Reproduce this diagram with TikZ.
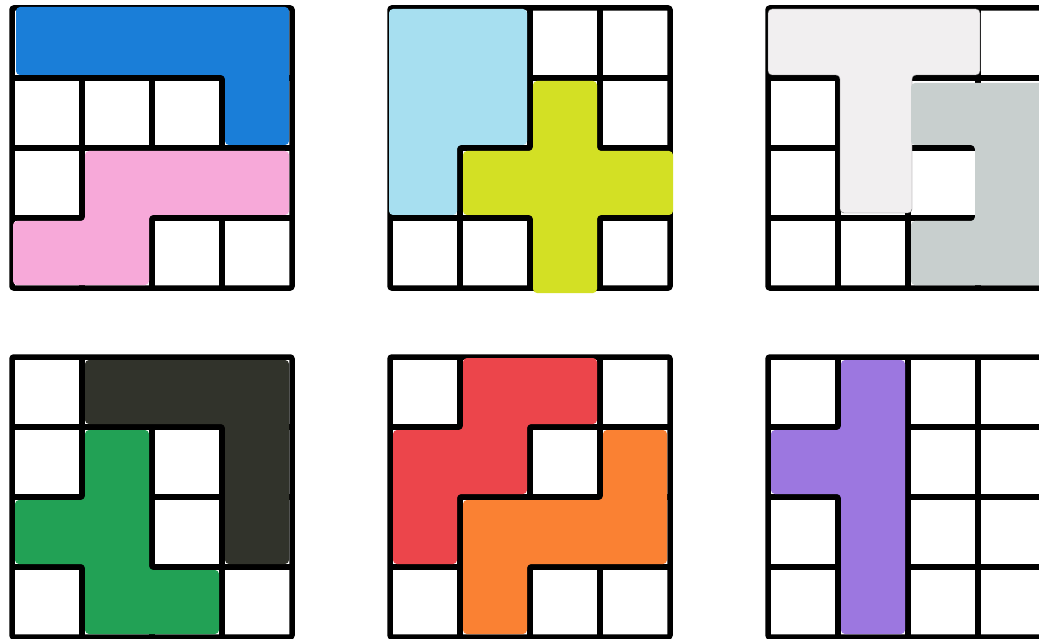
\documentclass[tikz,border=0pt]{standalone}
\definecolor{pblue}{HTML}{1A7ED8}
\definecolor{ppink}{HTML}{F7A9D9}
\definecolor{plblue}{HTML}{A7DFF0}
\definecolor{plime}{HTML}{D3E024}
\definecolor{pwhite}{HTML}{F1EFF0}
\definecolor{pgray}{HTML}{C8CFCE}
\definecolor{pdark}{HTML}{31332B}
\definecolor{pgreen}{HTML}{22A155}
\definecolor{pred}{HTML}{EC454B}
\definecolor{porange}{HTML}{FA8133}
\definecolor{ppurple}{HTML}{9C77E0}
\tikzset{
  gridline/.style={line width=5.5pt, draw=black},
  piece/.style={rounded corners=4pt},
}
\newcommand\myboard{%
  \foreach \k in {70,140,210}{%
    \draw[gridline] (\k,0) -- (\k,280);
    \draw[gridline] (0,\k) -- (280,\k);
  }%
  \draw[gridline, rounded corners=2pt] (0,0) rectangle (280,280);
}
\begin{document}
\begin{tikzpicture}[x=1pt,y=-1pt]
\useasboundingbox (0,0) rectangle (1039,639);
\clip (0,0) rectangle (1039,639);
\fill[white] (0,0) rectangle (1039,639);
% Board 1
\begin{scope}[shift={(12,8)}]
  \myboard
  \fill[pblue, piece] (4,-1) -- (277,-1) -- (277,137) -- (213,137) -- (213,67) -- (4,67) -- cycle;
  \fill[ppink, piece] (73,143) -- (277,143) -- (277,207) -- (137,207) -- (137,277) -- (1,277) -- (1,213) -- (73,213) -- cycle;
\end{scope}
% Board 2
\begin{scope}[shift={(390,8)}]
  \myboard
  \fill[plblue, piece] (-1,1) -- (137,1) -- (137,137) -- (67,137) -- (67,207) -- (-1,207) -- cycle;
  \fill[plime, piece] (143,73) -- (207,73) -- (207,143) -- (283,143) -- (283,207) -- (207,207) -- (207,285) -- (143,285) -- (143,207) -- (73,207) -- (73,143) -- (143,143) -- cycle;
\end{scope}
% Board 3
\begin{scope}[shift={(768,8)}]
  \myboard
  \fill[pwhite, piece, draw=black!60, line width=0.4pt] (0,1) -- (212,1) -- (212,67) -- (144,67) -- (144,205) -- (72,205) -- (72,67) -- (0,67) -- cycle;
  \fill[pgray, piece] (143,75) -- (277,75) -- (277,277) -- (143,277) -- (143,213) -- (207,213) -- (207,137) -- (143,137) -- cycle;
\end{scope}
% Board 4
\begin{scope}[shift={(12,357)}]
  \myboard
  \fill[pdark, piece] (73,3) -- (277,3) -- (277,207) -- (213,207) -- (213,67) -- (73,67) -- cycle;
  \fill[pgreen, piece] (73,73) -- (137,73) -- (137,213) -- (207,213) -- (207,277) -- (73,277) -- (73,207) -- (3,207) -- (3,143) -- (73,143) -- cycle;
\end{scope}
% Board 5
\begin{scope}[shift={(390,357)}]
  \myboard
  \fill[pred, piece] (73,1) -- (207,1) -- (207,67) -- (137,67) -- (137,137) -- (67,137) -- (67,207) -- (3,207) -- (3,73) -- (73,73) -- cycle;
  \fill[porange, piece] (213,73) -- (277,73) -- (277,207) -- (137,207) -- (137,277) -- (73,277) -- (73,143) -- (213,143) -- cycle;
\end{scope}
% Board 6
\begin{scope}[shift={(768,357)}]
  \myboard
  \fill[ppurple, piece] (73,3) -- (137,3) -- (137,277) -- (73,277) -- (73,137) -- (3,137) -- (3,73) -- (73,73) -- cycle;
\end{scope}
\end{tikzpicture}
\end{document}
